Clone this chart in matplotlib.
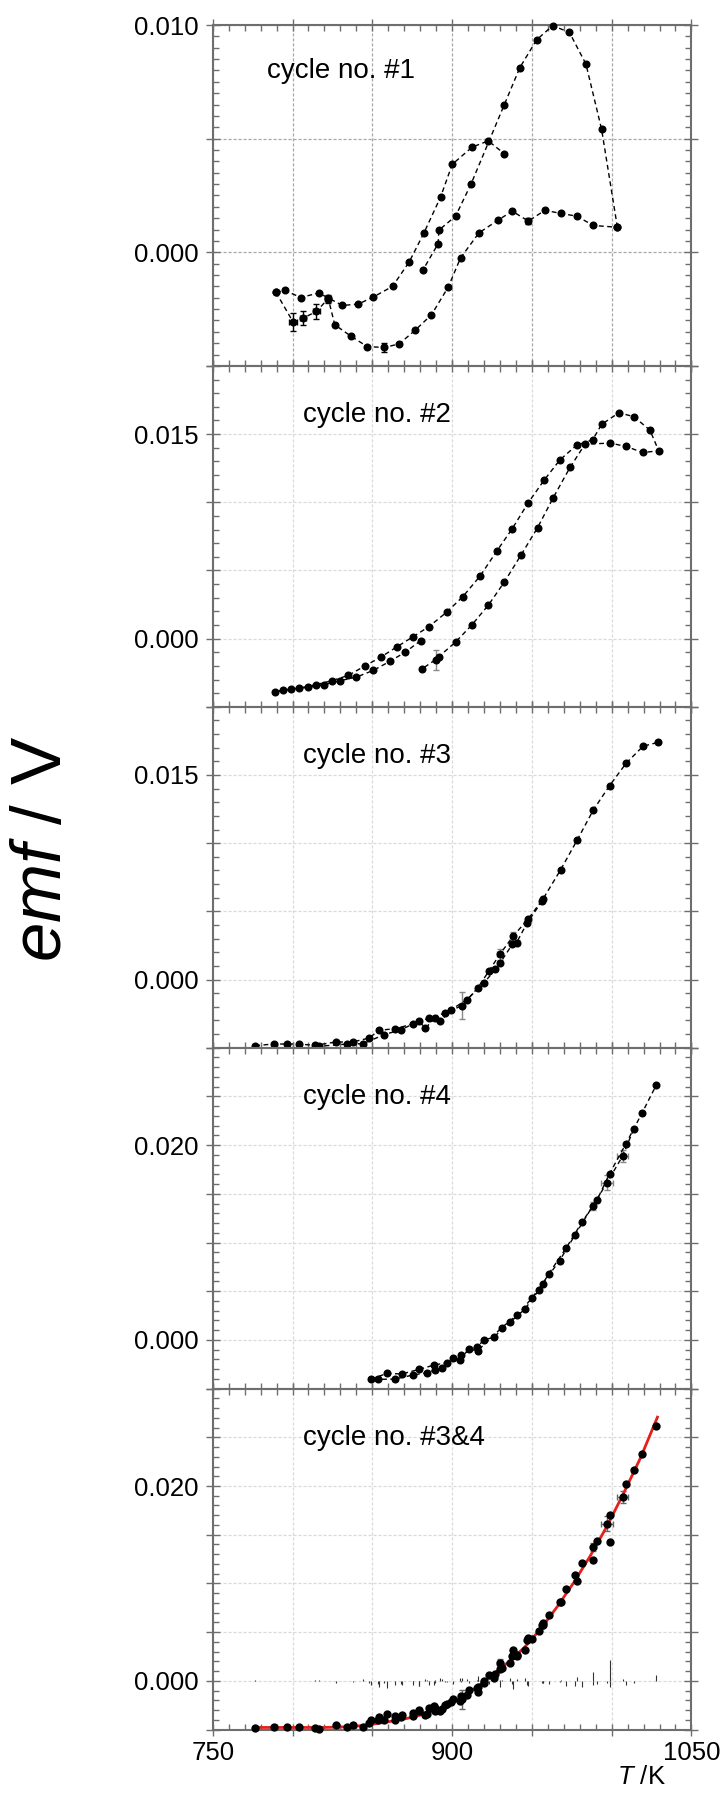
import matplotlib
matplotlib.use("Agg")
import matplotlib.pyplot as plt
import matplotlib.ticker as ticker
import numpy as np

plt.rcParams['font.family'] = ['Liberation Sans', 'DejaVu Sans']
plt.rcParams['mathtext.fontset'] = 'custom'
plt.rcParams['mathtext.it'] = 'Liberation Sans:italic'
plt.rcParams['mathtext.rm'] = 'Liberation Sans'

# ---- cycle 1 (three runs) ----
c1a_T = [789.6, 795.2, 805.2, 816.5, 822.4, 831.3, 841.2, 850.6, 862.7, 873.1, 882.3, 892.8, 900.1, 912.6, 922.7, 932.7]
c1a_E = [-0.00176, -0.00168, -0.00199, -0.00179, -0.00201, -0.00234, -0.00228, -0.00197, -0.00150, -0.00043,
         0.00084, 0.00243, 0.00387, 0.00463, 0.00490, 0.00434]
c1b_T = [789.6, 800.4, 806.7, 815.0, 822.4, 826.5, 836.4, 846.8, 857.5, 866.9, 876.7, 887.1, 897.6, 905.3,
         916.8, 928.5, 937.7, 947.8, 958.2, 968.0, 978.1, 988.5, 1003.6]
c1b_E = [-0.00176, -0.00307, -0.00290, -0.00260, -0.00204, -0.00319, -0.00368, -0.00415, -0.00419, -0.00403,
         -0.00344, -0.00275, -0.00153, -0.00025, 0.00085, 0.00140, 0.00181, 0.00137, 0.00185, 0.00171,
         0.00159, 0.00118, 0.00110]
c1c_T = [1003.6, 993.7, 983.9, 973.5, 963.0, 953.0, 942.5, 932.7, 911.8, 902.2, 891.7, 891.3, 881.9]
c1c_E = [0.00110, 0.00541, 0.00828, 0.00968, 0.00997, 0.00935, 0.00813, 0.00649, 0.00299, 0.00159,
         0.00097, 0.00038, -0.00076]
e1_T = [800.4, 806.7, 815.0, 822.4, 857.5, 947.8]
e1_E = [-0.00307, -0.00290, -0.00260, -0.00204, -0.00419, 0.00137]
e1_X = [2.5, 2.0, 2.0, 2.0, 0.0, 0.0]
e1_Y = [0.00038, 0.00030, 0.00032, 0.00018, 0.00018, 0.00013]

# ---- cycle 2 ----
c2_T = [880.3, 870.8, 861.0, 850.6, 840.1, 829.7, 819.6, 809.4, 799.0, 788.9,
        794.1, 804.2, 814.6, 824.5, 834.9, 845.3, 855.4, 865.6, 875.7, 885.5, 896.6, 906.6, 917.5,
        927.9, 937.7, 947.8, 957.8, 967.6, 978.1, 988.1, 993.7, 1004.6, 1014.0, 1024.0, 1029.5,
        1019.4, 1009.2, 999.1, 983.3, 973.9, 963.4, 953.6, 943.2, 932.7, 922.7, 912.2, 902.2,
        891.7, 889.7, 881.3]
c2_E = [-0.00015, -0.00098, -0.00167, -0.00233, -0.00282, -0.00309, -0.00338, -0.00358, -0.00368, -0.00392,
        -0.00380, -0.00363, -0.00338, -0.00309, -0.00270, -0.00201, -0.00135, -0.00059, 0.00015, 0.00088,
        0.00194, 0.00306, 0.00458, 0.00640, 0.00806, 0.00998, 0.01164, 0.01311, 0.01419, 0.01458,
        0.01571, 0.01657, 0.01627, 0.01529, 0.01377,
        0.01365, 0.01409, 0.01434, 0.01426, 0.01255, 0.01034, 0.00814, 0.00613, 0.00414, 0.00245,
        0.00098, -0.00025, -0.00132, -0.00154, -0.00221]
e2_T = [889.7]
e2_E = [-0.00154]
e2_X = [0.0]
e2_Y = [0.00074]

# ---- cycle 3 (heating / cooling) ----
c3a_T = [776.6, 788.1, 796.4, 803.8, 814.2, 827.2, 837.7, 848.1, 854.0, 864.4, 875.5, 885.8, 895.8, 906.3,
         916.1, 923.0, 929.9, 938.3, 947.5, 957.1, 968.0, 978.5, 988.5, 998.7, 1009.2, 1019.7, 1029.3]
c3a_E = [-0.00485, -0.00473, -0.00473, -0.00473, -0.00483, -0.00458, -0.00458, -0.00429, -0.00373, -0.00360,
         -0.00326, -0.00282, -0.00245, -0.00191, -0.00061, 0.00061, 0.00184, 0.00319, 0.00441, 0.00593,
         0.00804, 0.01025, 0.01243, 0.01422, 0.01588, 0.01711, 0.01740]
c3b_T = [956.5, 947.1, 940.4, 937.7, 929.9, 927.2, 919.9, 909.4, 899.4, 892.7, 889.5, 883.3, 879.1, 868.0,
         857.5, 844.1, 834.1, 816.3]
c3b_E = [0.00576, 0.00417, 0.00270, 0.00257, 0.00118, 0.00074, -0.00025, -0.00147, -0.00221, -0.00306,
         -0.00282, -0.00355, -0.00306, -0.00368, -0.00404, -0.00471, -0.00473, -0.00490]
e3_T = [906.3, 929.9, 938.3, 940.4]
e3_E = [-0.00191, 0.00184, 0.00319, 0.00270]
e3_X = [0.0, 1.5, 0.0, 0.0]
e3_Y = [0.00100, 0.00040, 0.00030, 0.00020]

# ---- cycle 4 (heating / cooling) ----
c4a_T = [849.2, 859.4, 868.4, 879.5, 888.7, 896.7, 905.6, 915.5, 920.3, 926.0, 936.2, 945.6, 954.6, 960.5,
         971.5, 981.4, 990.8, 998.7, 1009.0, 1019.0, 1028.0]
c4a_E = [-0.00402, -0.00343, -0.00350, -0.00302, -0.00258, -0.00234, -0.00155, -0.00069, 0.00000, 0.00027,
         0.00179, 0.00316, 0.00515, 0.00677, 0.00944, 0.01209, 0.01435, 0.01707, 0.02016, 0.02328, 0.02617]
c4b_T = [1013.8, 1006.9, 997.1, 988.1, 977.2, 967.4, 956.7, 950.0, 941.0, 931.2, 916.1, 910.3, 905.0, 900.4,
         893.9, 889.3, 884.1, 875.3, 864.2, 853.8]
c4b_E = [0.02163, 0.01889, 0.01614, 0.01374, 0.01082, 0.00814, 0.00577, 0.00429, 0.00258, 0.00127,
         -0.00110, -0.00096, -0.00206, -0.00189, -0.00292, -0.00309, -0.00337, -0.00361, -0.00402, -0.00405]
e4_T = [997.1, 1006.9, 988.1]
e4_E = [0.01614, 0.01889, 0.01374]
e4_X = [4.0, 3.5, 0.0]
e4_Y = [0.00080, 0.00060, 0.00040]

# ---- fitted curve, cycles 3&4 ----
fit_T = [776.6, 798.5, 819.5, 830.0, 840.4, 850.8, 861.3, 871.8, 882.2, 892.7, 903.1, 913.6, 924.1, 934.5,
         945.0, 955.4, 965.9, 976.4, 986.8, 997.3, 1007.7, 1018.2, 1028.7]
fit_E = [-0.00479, -0.00479, -0.00479, -0.00475, -0.00465, -0.00444, -0.00417, -0.00386, -0.00344, -0.00282,
         -0.00196, -0.00090, 0.00045, 0.00182, 0.00337, 0.00530, 0.00761, 0.01012, 0.01288, 0.01594,
         0.01932, 0.02293, 0.02707]

titles = ["cycle no. #1", "cycle no. #2", "cycle no. #3", "cycle no. #4", "cycle no. #3&4"]
ylims = [(-0.005, 0.010), (-0.005, 0.020), (-0.005, 0.020), (-0.005, 0.030), (-0.005, 0.030)]
ylabeled = [(0.0, 0.010), (0.0, 0.015), (0.0, 0.015), (0.0, 0.020), (0.0, 0.020)]
yminor = [0.0005, 0.001, 0.001, 0.001, 0.001]
xlabeled = [750, 900, 1050]

fig, axes = plt.subplots(5, 1, figsize=(7.25, 17.94), dpi=100, sharex=True)
fig.subplots_adjust(left=0.2934, right=0.9537, top=0.98606, bottom=0.03595, hspace=0)

mk = dict(marker='o', ms=5.8, mfc='black', mec='black', mew=0, color='black',
          lw=1.0, dashes=(3.5, 2.5), clip_on=False, zorder=3)
eb = dict(fmt='none', capsize=2.5, elinewidth=1.0, capthick=1.0, zorder=2)

ax = axes[0]
ax.plot(c1a_T, c1a_E, **mk)
ax.plot(c1b_T, c1b_E, **mk)
ax.plot(c1c_T, c1c_E, **mk)
ax.errorbar(e1_T, e1_E, xerr=e1_X, yerr=e1_Y, ecolor='black', **eb)

ax = axes[1]
ax.plot(c2_T, c2_E, **mk)
ax.errorbar(e2_T, e2_E, xerr=e2_X, yerr=e2_Y, ecolor='#888888', **eb)

ax = axes[2]
ax.plot(c3a_T, c3a_E, **mk)
ax.plot(c3b_T, c3b_E, **mk)
ax.errorbar(e3_T, e3_E, xerr=e3_X, yerr=e3_Y, ecolor='#888888', **eb)

ax = axes[3]
ax.plot(c4a_T, c4a_E, **mk)
ax.plot(c4b_T, c4b_E, **mk)
ax.errorbar(e4_T, e4_E, xerr=e4_X, yerr=e4_Y, ecolor='#888888', **eb)

# combined cycles 3&4 (cycle 3 above 1000 K left out of the fit)
T3 = np.array(c3a_T + c3b_T)
E3 = np.array(c3a_E + c3b_E)
keep = T3 < 1000
allT = np.concatenate([T3[keep], c4a_T, c4b_T])
allE = np.concatenate([E3[keep], c4a_E, c4b_E])
ax = axes[4]
resid = np.interp(allT, fit_T, fit_E) - allE
ax.vlines(allT, 0, resid, color='#333333', lw=0.8, zorder=2)
ax.plot(fit_T, fit_E, color='#e3201b', lw=2.0, zorder=3)
ax.plot(allT, allE, 'o', ms=6.0, mfc='black', mec='black', mew=0, zorder=4, clip_on=False)
ax.errorbar(e3_T[:2] + e4_T, e3_E[:2] + e4_E, xerr=e3_X[:2] + e4_X, yerr=e3_Y[:2] + e4_Y,
            ecolor='#666666', **eb)

spine_col = '#6e6e6e'
for i, ax in enumerate(axes):
    ax.set_xlim(750, 1050)
    ax.set_ylim(*ylims[i])
    ax.xaxis.set_major_locator(ticker.MultipleLocator(50))
    ax.xaxis.set_minor_locator(ticker.MultipleLocator(10))
    ax.yaxis.set_major_locator(ticker.MultipleLocator(0.005))
    ax.yaxis.set_minor_locator(ticker.MultipleLocator(yminor[i]))
    labs = ylabeled[i]
    ax.yaxis.set_major_formatter(ticker.FuncFormatter(
        lambda v, p, labs=labs: "%.3f" % abs(v) if any(abs(v - l) < 1e-9 for l in labs) else ""))
    ax.xaxis.set_major_formatter(ticker.FuncFormatter(
        lambda v, p: "%d" % v if int(round(v)) in xlabeled else ""))
    gcol = '#a8a8a8' if i == 0 else '#dadada'
    ax.grid(True, which='major', color=gcol, lw=0.9, linestyle=(0, (2.5, 1.5)), zorder=0)
    ax.tick_params(axis='both', which='both', top=True, right=True, color=spine_col,
                   labelsize=18.5, width=1.0)
    ax.tick_params(axis='y', which='major', direction='inout', length=10, pad=5)
    ax.tick_params(axis='y', which='minor', direction='in', length=4)
    ax.tick_params(axis='x', which='major', direction='inout', length=8, pad=4.5)
    ax.tick_params(axis='x', which='minor', direction='in', length=4)
    for s in ax.spines.values():
        s.set_color(spine_col)
        s.set_linewidth(1.5)
    if i == 0:
        ax.text(0.113, 0.845, titles[i], transform=ax.transAxes, fontsize=20, va='baseline')
    else:
        ax.text(0.189, 0.834, titles[i], transform=ax.transAxes, fontsize=20, va='baseline')

fig.text(0.060, 0.527, "$emf$ / V", rotation=90, fontsize=51, ha='center', va='center')
fig.text(0.919, 0.0095, "$T$ /K", fontsize=18.5, ha='right', va='center')

plt.savefig("out.png", dpi=100)
plt.close()
